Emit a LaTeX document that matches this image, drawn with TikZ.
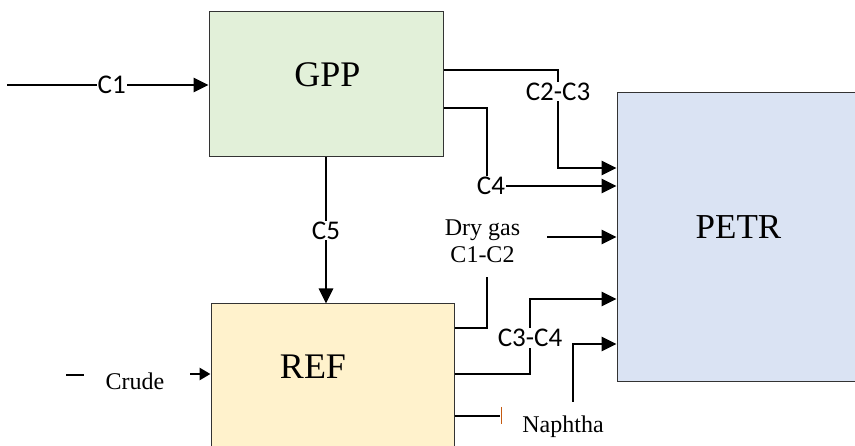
\documentclass[tikz,border=0pt]{standalone}
\usepackage{fontspec}
\setmainfont{Liberation Serif}
\newfontfamily\calib{Carlito}
\usetikzlibrary{arrows.meta}

\definecolor{gppfill}{HTML}{E2F0D9}
\definecolor{reffill}{HTML}{FFF2CC}
\definecolor{petrfill}{HTML}{DAE3F3}
\definecolor{tickbrown}{HTML}{C55A11}

\tikzset{
  unit/.style={draw=black!80, line width=1pt, inner sep=0pt},
  pipe/.style={line width=2.8pt},
  flow/.style={pipe, ->},
  cname/.style={font=\calib\fontsize{27}{29}\selectfont, fill=white, inner sep=1pt},
  sname/.style={font=\fontsize{24}{27}\selectfont, align=center, inner sep=0pt},
  uname/.style={font=\fontsize{36}{40}\selectfont, inner sep=0pt, anchor=base},
}

\begin{document}
\begin{tikzpicture}[x=1pt, y=-1pt, >={Triangle[length=15pt,width=14pt]}]
    \useasboundingbox (0,0) rectangle (855,446);
    % units
    \node[unit, fill=gppfill,  minimum width=234pt, minimum height=145pt] (gpp)  at (326,84.5) {};
    \node[unit, fill=reffill,  minimum width=243pt, minimum height=156pt] (ref)  at (332.5,382) {};
    \node[unit, fill=petrfill, minimum width=253pt, minimum height=289pt] (petr) at (743.5,237.5) {};
    \node[uname] (gpptxt)  at (327.5,87) {GPP};
    \node[uname] (reftxt)  at (313,379)  {REF};
    \node[uname, font=\fontsize{35}{40}\selectfont] (petrtxt) at (738.5,239) {PETR};

    % feeds
    \coordinate (c1in) at (7,85);
    \draw[flow] (c1in) -- node[cname, pos=0.52] {C1} (c1in -| gpp.west);
    \draw[pipe, line width=2.4pt] (66,375) -- (84,375);
    \node[sname, anchor=base] (crude) at (135,390) {Crude};
    \coordinate (crudein) at (190,374);
    \draw[flow, >={Triangle[length=11pt,width=12pt]}] (crudein) -- (crudein -| ref.west);

    % GPP -> REF
    \draw[flow] (gpp.south) -- node[cname] {C5} (gpp.south |- ref.north);

    % GPP -> PETR
    \coordinate (c23) at (558,168);
    \draw[flow] ([yshift=14.5pt]gpp.east) -| node[cname, pos=0.61] {C2-C3} (c23) -- (c23 -| petr.west);
    \node[cname] (c4) at (491,186) {C4};
    \draw[pipe] ([yshift=-23.5pt]gpp.east) -| ([xshift=-4pt]c4.north);
    \draw[flow] (c4.east) -- (c4.east -| petr.west);

    % REF -> PETR
    \node[sname] (dry) at (482.5,241) {Dry gas\\C1-C2};
    \coordinate (dryin) at (547,237);
    \draw[flow] (dryin) -- (dryin -| petr.west);
    \coordinate (dryend) at (487,277);
    \draw[pipe] ([yshift=54pt]ref.east) -| (dryend);
    \coordinate (c34) at (530,299);
    \draw[flow] ([yshift=8pt]ref.east) -| node[cname, pos=0.74] {C3-C4} (c34) -- (c34 -| petr.west);
    \draw[pipe] ([yshift=-34pt]ref.east) -- ++(45,0) coordinate (naphend);
    \draw[tickbrown, line width=0.8pt] (501,407) -- (501,424);
    \node[sname, anchor=base] (naph) at (563,433) {Naphtha};
    \coordinate (naphup) at (573,402);
    \draw[flow] (naphup) |- (petr.west |- 0,344);
\end{tikzpicture}
\end{document}
